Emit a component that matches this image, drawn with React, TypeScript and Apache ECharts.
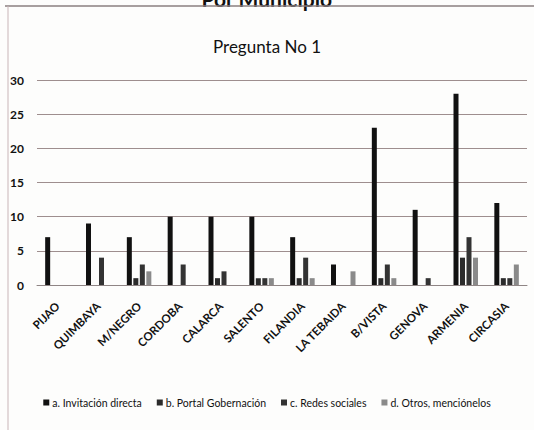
import React, { useEffect, useRef } from "react";
import * as echarts from "echarts";

const municipios = ["PIJAO", "QUIMBAYA", "M/NEGRO", "CORDOBA", "CALARCA", "SALENTO", "FILANDIA", "LA TEBAIDA", "B/VISTA", "GENOVA", "ARMENIA", "CIRCASIA"];
const invitacionDirecta = [7, 9, 7, 10, 10, 10, 7, 3, 23, 11, 28, 12];
const portalGobernacion = [0, 0, 1, 0, 1, 1, 1, 0, 1, 0, 4, 1];
const redesSociales = [0, 4, 3, 3, 2, 1, 4, 0, 3, 1, 7, 1];
const otros = [0, 0, 2, 0, 0, 1, 1, 2, 1, 0, 4, 3];
const seriesNames = ["a. Invitación directa", "b. Portal Gobernación", "c. Redes sociales", "d. Otros, menciónelos"];
const yTicks = { min: 0, max: 30, interval: 5 };

const FONT = "Lato, 'Open Sans', 'DejaVu Sans', sans-serif";

export default function App() {
  const ref = useRef<HTMLDivElement>(null);
  useEffect(() => {
    document.body.style.margin = "0";
    const chart = echarts.init(ref.current!, null, { renderer: "svg" });
    const colors = ["#111111", "#2b2b2b", "#333333", "#8a8a8a"];
    const data = [invitacionDirecta, portalGobernacion, redesSociales, otros];
    chart.setOption({
      animation: false,
      backgroundColor: "#fdfdfc",
      title: {
        text: "Pregunta No 1",
        left: "center",
        top: 33,
        textStyle: { fontFamily: FONT, fontSize: 17, fontWeight: "normal", color: "#111" },
      },
      graphic: [
        { type: "text", left: "center", top: -12, style: { text: "Por Municipio", font: "bold 21px " + FONT, fill: "#111" } },
        { type: "line", shape: { x1: 5, y1: 6, x2: 534, y2: 6 }, style: { stroke: "#8a7f80", lineWidth: 1.5 } },
        { type: "line", shape: { x1: 8, y1: 6, x2: 8, y2: 430 }, style: { stroke: "#c9b5b8", lineWidth: 1 } },
      ],
      legend: {
        bottom: 17,
        left: "center",
        itemWidth: 6,
        itemHeight: 6,
        itemGap: 15,
        icon: "rect",
        textStyle: { fontFamily: FONT, fontSize: 10.5, color: "#111", padding: [0, 0, 0, -2] },
        data: seriesNames,
      },
      grid: { left: 37, right: 7, top: 80, bottom: 145, containLabel: false },
      xAxis: {
        type: "category",
        data: municipios,
        axisTick: { show: false },
        axisLine: { show: true, lineStyle: { color: "#8f8585", width: 1 } },
        axisLabel: {
          rotate: 45,
          interval: 0,
          margin: 19,
          fontFamily: FONT,
          fontSize: 11.5,
          fontWeight: "bold",
          color: "#111",
        },
      },
      yAxis: {
        type: "value",
        min: yTicks.min,
        max: yTicks.max,
        interval: yTicks.interval,
        axisLine: { show: false },
        axisTick: { show: false },
        splitLine: { lineStyle: { color: "#9e8e8e", width: 1 } },
        axisLabel: { margin: 13, fontFamily: FONT, fontSize: 12, fontWeight: "bold", color: "#111" },
      },
      series: seriesNames.map((name, i) => ({
        name,
        type: "bar",
        data: data[i],
        barWidth: 5,
        barGap: "30%",
        itemStyle: { color: colors[i] },
      })),
    });
    return () => chart.dispose();
  }, []);
  return <div ref={ref} style={{ width: 534, height: 430 }} />;
}
